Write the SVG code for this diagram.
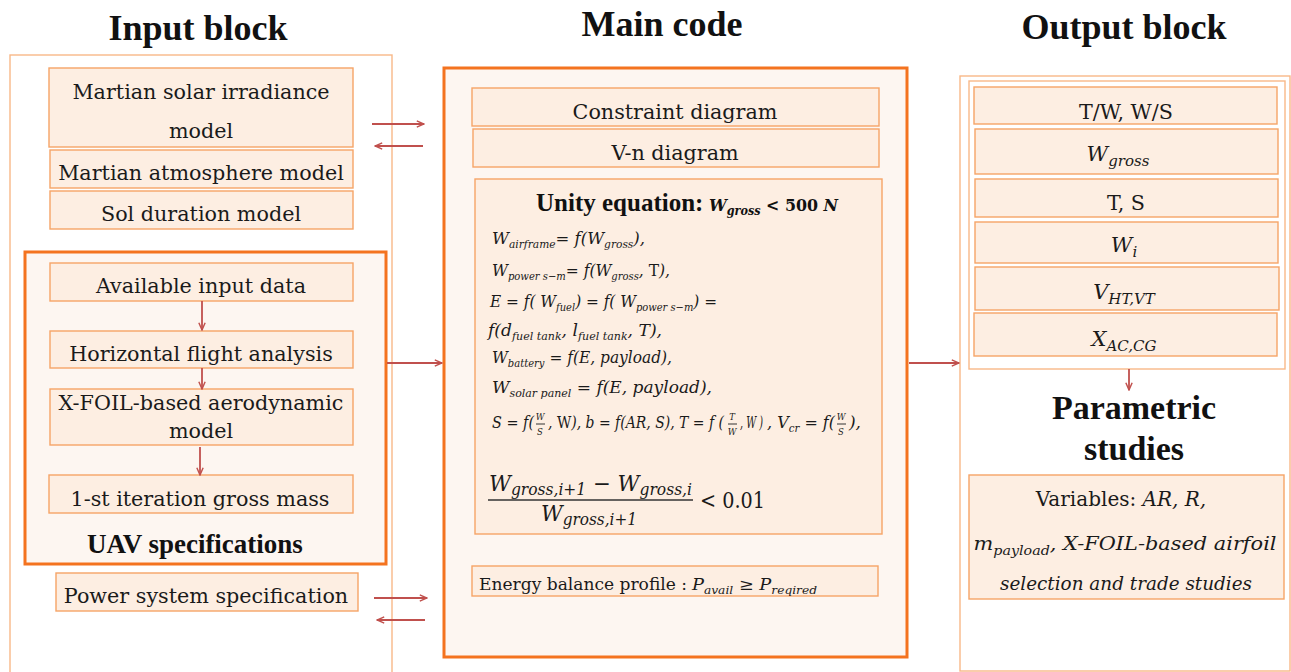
<svg xmlns="http://www.w3.org/2000/svg" width="1291" height="672" viewBox="0 0 1291 672">
<style>
.bg{fill:#ffffff}
.n{fill:#fdeee2;stroke:#f6a467;stroke-width:1.4}
.thick{fill:#fdf6f1;stroke:#f4731f;stroke-width:3}
.outer{fill:#ffffff;stroke:#f8b888;stroke-width:1.4}
.t{font-family:"DejaVu Serif",serif;font-size:20.7px;fill:#1a1a1a;text-anchor:middle}
.h{font-family:"Liberation Serif",serif;font-weight:bold;font-size:36px;fill:#111;text-anchor:middle}
.m{font-family:"DejaVu Serif",serif;font-style:italic;font-size:17px;fill:#1a1a1a}
.sb{font-size:11px}
.up{font-style:normal}
.fr{font-family:"DejaVu Serif",serif;font-style:italic;font-size:8.5px;fill:#1a1a1a;text-anchor:middle}
.bar{stroke:#333;stroke-width:1}
.c line{stroke:#c0504d;stroke-width:1.8;marker-end:url(#ah)}
</style>
<defs>
<marker id="ah" viewBox="0 0 10 10" refX="9" refY="5" markerWidth="9" markerHeight="9" markerUnits="userSpaceOnUse" orient="auto">
<path d="M1,1.5 L9,5 L1,8.5" fill="none" stroke="#c0504d" stroke-width="1.6"/>
</marker>
</defs>
<rect class="bg" x="0" y="0" width="1291" height="672"/>

<!-- Titles -->
<text class="h" x="198" y="40">Input block</text>
<text class="h" x="662" y="36">Main code</text>
<text class="h" x="1124" y="39">Output block</text>

<!-- Input block -->
<g id="input-block">
<rect class="outer" x="10" y="55" width="382" height="640"/>
</g>
<g id="solar-irradiance">
<rect class="n" x="49" y="68" width="304" height="79"/>
<text class="t" x="201" y="99">Martian solar irradiance</text>
<text class="t" x="201" y="138">model</text>
</g>
<g id="atmosphere">
<rect class="n" x="50" y="150" width="303" height="38"/>
<text class="t" x="201" y="180">Martian atmosphere model</text>
</g>
<g id="sol-duration">
<rect class="n" x="50" y="191" width="303" height="38"/>
<text class="t" x="201" y="221">Sol duration model</text>
</g>
<g id="uav-specifications">
<rect class="thick" x="25" y="252" width="361" height="312"/>
<text x="195" y="553" style="font-family:'Liberation Serif',serif;font-weight:bold;font-size:27px;fill:#111;text-anchor:middle">UAV specifications</text>
</g>
<g id="available-input">
<rect class="n" x="50" y="263" width="303" height="38"/>
<text class="t" x="201" y="293">Available input data</text>
</g>
<g id="horizontal-flight">
<rect class="n" x="50" y="331" width="303" height="37"/>
<text class="t" x="201" y="361">Horizontal flight analysis</text>
</g>
<g id="xfoil-aero">
<rect class="n" x="50" y="389" width="303" height="56"/>
<text class="t" x="201" y="410">X-FOIL-based aerodynamic</text>
<text class="t" x="201" y="438">model</text>
</g>
<g id="first-iteration">
<rect class="n" x="49" y="475" width="304" height="38"/>
<text class="t" x="200" y="506">1-st iteration gross mass</text>
</g>
<g id="power-system">
<rect class="n" x="56" y="573" width="302" height="38"/>
<text class="t" x="206" y="603">Power system specification</text>
</g>

<!-- Main code -->
<g id="main-code">
<rect class="thick" x="444" y="68" width="463" height="589"/>
</g>
<g id="constraint-diagram">
<rect class="n" x="472" y="88" width="407" height="38"/>
<text class="t" x="675" y="119">Constraint diagram</text>
</g>
<g id="vn-diagram">
<rect class="n" x="473" y="129" width="406" height="38"/>
<text class="t" x="675" y="160">V-n diagram</text>
</g>
<g id="unity-equation">
<rect class="n" x="475" y="179" width="407" height="355"/>
<text x="536" y="211" style="font-family:'Liberation Serif',serif;font-weight:bold;font-size:25px;fill:#111">Unity equation:</text>
<text x="709" y="211" textLength="129" lengthAdjust="spacingAndGlyphs" style="font-family:'DejaVu Serif',serif;font-weight:bold;font-style:italic;font-size:17px;fill:#111">W<tspan font-size="12" dy="4">gross</tspan><tspan dy="-4" font-style="normal"> &lt; 500 </tspan>N</text>

<text class="m" x="492" y="244" textLength="153" lengthAdjust="spacingAndGlyphs">W<tspan class="sb" dy="4">airframe</tspan><tspan dy="-4">= f(W</tspan><tspan class="sb" dy="4">gross</tspan><tspan dy="-4">),</tspan></text>
<text class="m" x="492" y="276" textLength="178" lengthAdjust="spacingAndGlyphs">W<tspan class="sb" dy="4">power s−m</tspan><tspan dy="-4">= f(W</tspan><tspan class="sb" dy="4">gross</tspan><tspan dy="-4">, </tspan><tspan class="up">T</tspan>),</text>
<text class="m" x="490" y="307" textLength="227" lengthAdjust="spacingAndGlyphs">E = f( W<tspan class="sb" dy="4">fuel</tspan><tspan dy="-4">) = f( W</tspan><tspan class="sb" dy="4">power s−m</tspan><tspan dy="-4">) =</tspan></text>
<text class="m" x="488" y="336" textLength="174" lengthAdjust="spacingAndGlyphs">f(d<tspan class="sb" dy="4">fuel tank</tspan><tspan dy="-4">, l</tspan><tspan class="sb" dy="4">fuel tank</tspan><tspan dy="-4">, T),</tspan></text>
<text class="m" x="492" y="363" textLength="180" lengthAdjust="spacingAndGlyphs">W<tspan class="sb" dy="4">battery</tspan><tspan dy="-4"> = f(E, payload),</tspan></text>
<text class="m" x="492" y="393" textLength="220" lengthAdjust="spacingAndGlyphs">W<tspan class="sb" dy="4">solar panel</tspan><tspan dy="-4"> = f(E, payload),</tspan></text>

<text class="m" x="492" y="428" textLength="42" lengthAdjust="spacingAndGlyphs">S = f(</text>
<text class="fr" x="540" y="420">W</text><line class="bar" x1="536" y1="424" x2="545" y2="424"/><text class="fr" x="540" y="435">S</text>
<text class="m" x="548" y="428" textLength="176" lengthAdjust="spacingAndGlyphs">, <tspan class="up">W</tspan>), b = f(AR, S), T = f (</text>
<text class="fr" x="732" y="420">T</text><line class="bar" x1="728" y1="424" x2="737" y2="424"/><text class="fr" x="732" y="435">W</text>
<text class="m" x="740" y="428" textLength="23" lengthAdjust="spacingAndGlyphs">, W )</text>
<text class="m" x="767" y="428" textLength="68" lengthAdjust="spacingAndGlyphs">, V<tspan class="sb" dy="4">cr</tspan><tspan dy="-4"> = f(</tspan></text>
<text class="fr" x="841" y="420">W</text><line class="bar" x1="837" y1="424" x2="846" y2="424"/><text class="fr" x="841" y="435">S</text>
<text class="m" x="849" y="428" textLength="12" lengthAdjust="spacingAndGlyphs">),</text>

<text class="m" x="489" y="491" textLength="203" lengthAdjust="spacingAndGlyphs" style="font-size:22px">W<tspan dy="4" style="font-size:16px">gross,i+1</tspan><tspan dy="-4" class="up"> − </tspan>W<tspan dy="4" style="font-size:16px">gross,i</tspan></text>
<line x1="488" y1="500" x2="693" y2="500" stroke="#333" stroke-width="1.3"/>
<text class="m" x="589" y="521" textLength="96" lengthAdjust="spacingAndGlyphs" style="font-size:22px;text-anchor:middle">W<tspan dy="4" style="font-size:16px">gross,i+1</tspan></text>
<text x="700" y="508" textLength="65" lengthAdjust="spacingAndGlyphs" style="font-family:'DejaVu Serif',serif;font-size:22px;fill:#1a1a1a">&lt; 0.01</text>
</g>
<g id="energy-balance">
<rect class="n" x="472" y="566" width="406" height="30"/>
<text x="479" y="590" textLength="208" lengthAdjust="spacingAndGlyphs" style="font-family:'DejaVu Serif',serif;font-size:16.5px;fill:#1a1a1a">Energy balance profile :</text>
<text class="m" x="692" y="590" textLength="125" lengthAdjust="spacingAndGlyphs" style="font-size:16px">P<tspan class="sb" dy="4">avail</tspan><tspan dy="-4" class="up"> ≥ </tspan>P<tspan class="sb" dy="4">reqired</tspan></text>
</g>

<!-- Output block -->
<g id="output-block">
<rect class="outer" x="960" y="76" width="330" height="595"/>
<rect class="outer" x="969" y="81" width="316" height="288"/>
</g>
<g id="out-tw-ws">
<rect class="n" x="974" y="87" width="303" height="37"/>
<text class="t" x="1126" y="119">T/W, W/S</text>
</g>
<g id="out-wgross">
<rect class="n" x="975" y="129" width="303" height="45"/>
<text class="m" x="1118" y="161" style="font-size:21px;text-anchor:middle">W<tspan dy="5" style="font-size:15px">gross</tspan></text>
</g>
<g id="out-ts">
<rect class="n" x="975" y="179" width="303" height="38"/>
<text class="t" x="1126" y="210">T, S</text>
</g>
<g id="out-wi">
<rect class="n" x="975" y="222" width="303" height="41"/>
<text class="m" x="1124" y="252" style="font-size:21px;text-anchor:middle">W<tspan dy="5" style="font-size:15px">i</tspan></text>
</g>
<g id="out-vht">
<rect class="n" x="975" y="267" width="304" height="43"/>
<text class="m" x="1124" y="299" style="font-size:21px;text-anchor:middle">V<tspan dy="5" style="font-size:15px">HT,VT</tspan></text>
</g>
<g id="out-xac">
<rect class="n" x="974" y="313" width="303" height="43"/>
<text class="m" x="1124" y="346" style="font-size:21px;text-anchor:middle">X<tspan dy="5" style="font-size:15px">AC,CG</tspan></text>
</g>
<g id="parametric-studies">
<text x="1134" y="419" style="font-family:'Liberation Serif',serif;font-weight:bold;font-size:34px;fill:#111;text-anchor:middle">Parametric</text>
<text x="1134" y="460" style="font-family:'Liberation Serif',serif;font-weight:bold;font-size:34px;fill:#111;text-anchor:middle">studies</text>
</g>
<g id="variables">
<rect class="n" x="969" y="475" width="315" height="124"/>
<text x="1121" y="506" style="font-family:'DejaVu Serif',serif;font-size:20px;fill:#1a1a1a;text-anchor:middle">Variables: <tspan font-style="italic">AR, R,</tspan></text>
<text x="1125" y="550" textLength="303" lengthAdjust="spacingAndGlyphs" style="font-family:'DejaVu Serif',serif;font-style:italic;font-size:19px;fill:#1a1a1a;text-anchor:middle">m<tspan dy="5" font-size="13">payload</tspan><tspan dy="-5">, X-FOIL-based airfoil</tspan></text>
<text x="1126" y="590" textLength="252" lengthAdjust="spacingAndGlyphs" style="font-family:'DejaVu Serif',serif;font-style:italic;font-size:19px;fill:#1a1a1a;text-anchor:middle">selection and trade studies</text>
</g>

<!-- Connectors -->
<g id="connectors" class="c">
<line x1="372" y1="124" x2="424" y2="124"/>
<line x1="423" y1="146" x2="375" y2="146"/>
<line x1="202" y1="301" x2="202" y2="330"/>
<line x1="202" y1="368" x2="202" y2="389"/>
<line x1="200" y1="447" x2="200" y2="475"/>
<line x1="387" y1="363" x2="442" y2="363"/>
<line x1="374" y1="598" x2="427" y2="598"/>
<line x1="425" y1="620" x2="377" y2="620"/>
<line x1="909" y1="363" x2="959" y2="363"/>
<line x1="1129" y1="369" x2="1129" y2="390"/>
</g>
</svg>
